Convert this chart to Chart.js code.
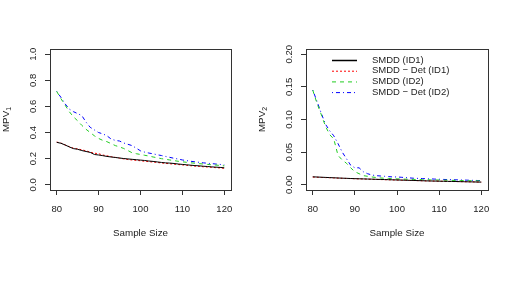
<!DOCTYPE html>
<html>
<head>
<meta charset="utf-8">
<script src="https://cdn.jsdelivr.net/npm/chart.js@4/dist/chart.umd.min.js"></script>
<style>
  body { margin: 0; background: #fff; }
  #wrap { position: relative; width: 513px; height: 288px; }
  canvas { position: absolute; top: 0; }
</style>
</head>
<body>
<div id="wrap">
  <canvas id="left" width="256" height="288" style="left:0px"></canvas>
  <canvas id="right" width="257" height="288" style="left:256px"></canvas>
</div>
<script>
// sample sizes 80..120
const sampleSizes = [80,81,82,83,84,85,86,87,88,89,90,91,92,93,94,95,96,97,98,99,100,
  101,102,103,104,105,106,107,108,109,110,111,112,113,114,115,116,117,118,119,120];

const seriesNames = ["SMDD (ID1)", "SMDD \u2212 Det (ID1)", "SMDD (ID2)", "SMDD \u2212 Det (ID2)"];

// MPV1 panel
const mpv1_smddId1 = [.325,.318,.305,.290,.277,.272,.262,.255,.248,.232,.228,.223,.217,.213,.209,.205,.201,.198,.195,.192,.189,
  .186,.182,.179,.175,.171,.168,.166,.163,.159,.156,.153,.150,.147,.145,.142,.140,.137,.135,.133,.130];
const mpv1_detId1 = [.327,.320,.305,.292,.280,.275,.268,.260,.250,.242,.238,.228,.222,.215,.210,.204,.198,.193,.190,.187,.184,
  .180,.177,.174,.171,.167,.164,.161,.158,.155,.152,.149,.146,.143,.141,.138,.136,.134,.131,.129,.126];
const mpv1_smddId2 = [.715,.660,.610,.560,.520,.490,.455,.425,.400,.375,.355,.340,.330,.315,.300,.290,.278,.262,.245,.238,.232,
  .226,.220,.213,.207,.200,.195,.190,.185,.180,.176,.172,.168,.165,.162,.159,.156,.153,.151,.148,.145];
const mpv1_detId2 = [.715,.670,.620,.580,.560,.545,.530,.480,.440,.420,.400,.390,.375,.350,.340,.335,.320,.310,.300,.280,.260,
  .250,.243,.237,.230,.224,.217,.210,.203,.197,.190,.185,.180,.176,.172,.168,.165,.162,.159,.156,.153];

// MPV2 panel
const mpv2_smddId1 = [.0122,.0119,.0116,.0113,.0110,.0107,.0104,.0101,.0099,.0096,.0094,.0092,.0090,.0088,.0086,.0084,.0082,.0080,.0078,.0076,.0074,
  .0072,.0070,.0068,.0066,.0064,.0062,.0060,.0058,.0057,.0055,.0054,.0052,.0051,.0050,.0048,.0047,.0045,.0044,.0042,.0041];
const mpv2_detId1 = [.0118,.0116,.0113,.0110,.0108,.0105,.0102,.0100,.0097,.0095,.0092,.0090,.0088,.0086,.0084,.0082,.0080,.0078,.0076,.0074,.0072,
  .0070,.0068,.0066,.0065,.0063,.0061,.0059,.0058,.0056,.0055,.0053,.0052,.0050,.0049,.0048,.0046,.0045,.0044,.0042,.0041];
const mpv2_smddId2 = [.145,.125,.108,.090,.077,.070,.045,.038,.033,.026,.020,.017,.014,.013,.012,.0112,.0105,.0100,.0096,.0093,.0090,
  .0088,.0086,.0084,.0082,.0080,.0078,.0077,.0076,.0074,.0073,.0071,.0070,.0068,.0067,.0065,.0064,.0063,.0062,.0060,.0059];
const mpv2_detId2 = [.145,.128,.110,.093,.083,.075,.063,.050,.040,.030,.026,.026,.020,.017,.015,.014,.0135,.013,.0125,.012,.012,
  .0115,.011,.0105,.010,.0098,.0095,.0092,.0090,.0087,.0085,.0082,.0080,.0078,.0076,.0074,.0072,.0070,.0068,.0066,.0064];

const xTicks = [80, 90, 100, 110, 120];
const y1Ticks = [0, 0.2, 0.4, 0.6, 0.8, 1.0];
const y1Labels = ["0.0", "0.2", "0.4", "0.6", "0.8", "1.0"];
const y2Ticks = [0, 0.05, 0.10, 0.15, 0.20];
const y2Labels = ["0.00", "0.05", "0.10", "0.15", "0.20"];

const FONT = "'Liberation Sans', Arial, 'DejaVu Sans', sans-serif";
const lineStyles = [
  { color: "#000000", dash: [] },
  { color: "#ff0000", dash: [2, 2] },
  { color: "#22cc22", dash: [4, 4] },
  { color: "#0000ff", dash: [1, 3, 4, 3] }
];

function makeSets(list) {
  return list.map(function (vals, i) {
    return {
      label: seriesNames[i],
      data: sampleSizes.map(function (n, k) { return { x: n, y: vals[k] }; }),
      borderColor: lineStyles[i].color,
      borderDash: lineStyles[i].dash,
      borderWidth: 1,
      pointRadius: 0,
      tension: 0,
      fill: false
    };
  });
}

// box, y tick labels, axis titles and (optionally) the legend
const decor = {
  id: "decor",
  afterDraw(chart, args, opts) {
    const ctx = chart.ctx;
    const a = chart.chartArea;
    const ys = chart.scales.y;
    ctx.save();
    ctx.strokeStyle = "#333";
    ctx.lineWidth = 1;
    ctx.strokeRect(Math.round(a.left) + 0.5, Math.round(a.top) + 0.5,
      Math.round(a.right - a.left), Math.round(a.bottom - a.top));

    ctx.fillStyle = "#222";
    ctx.font = "9.5px " + FONT;
    ctx.textAlign = "center";
    ctx.textBaseline = "middle";
    opts.yTicks.forEach(function (v, i) {
      const py = ys.getPixelForValue(v);
      ctx.save();
      ctx.translate(a.left - 17, py);
      ctx.rotate(-Math.PI / 2);
      ctx.fillText(opts.yLabels[i], 0, 0);
      ctx.restore();
    });

    // x title
    ctx.font = "9.8px " + FONT;
    ctx.fillText("Sample Size", (a.left + a.right) / 2, 233);

    // y title with subscript
    ctx.save();
    ctx.translate(6, (a.top + a.bottom) / 2);
    ctx.rotate(-Math.PI / 2);
    ctx.font = "9.8px " + FONT;
    const w1 = ctx.measureText("MPV").width;
    ctx.font = "7px " + FONT;
    const w2 = ctx.measureText(opts.sub).width;
    ctx.textAlign = "left";
    ctx.font = "9.8px " + FONT;
    ctx.fillText("MPV", -(w1 + w2) / 2, 0);
    ctx.font = "7px " + FONT;
    ctx.fillText(opts.sub, -(w1 + w2) / 2 + w1, 3);
    ctx.restore();

    if (opts.legend) {
      ctx.font = "9.5px " + FONT;
      ctx.textAlign = "left";
      chart.data.datasets.forEach(function (ds, i) {
        const ly = 60 + i * 10.7;
        ctx.beginPath();
        ctx.strokeStyle = ds.borderColor;
        ctx.setLineDash(ds.borderDash);
        ctx.lineWidth = i === 0 ? 1.5 : 1;
        ctx.moveTo(76, ly + 0.5);
        ctx.lineTo(101, ly + 0.5);
        ctx.stroke();
        ctx.setLineDash([]);
        ctx.fillStyle = "#222";
        ctx.fillText(ds.label, 116, ly);
      });
    }
    ctx.restore();
  }
};

function makeChart(id, sets, yMin, yMax, yTicks, yLabels, sub, legend) {
  return new Chart(document.getElementById(id), {
    type: "line",
    data: { datasets: makeSets(sets) },
    plugins: [decor],
    options: {
      responsive: false,
      animation: false,
      layout: { padding: { left: 0, top: 49, right: 25, bottom: 0 } },
      plugins: {
        legend: { display: false },
        tooltip: { enabled: false },
        decor: { yTicks: yTicks, yLabels: yLabels, sub: sub, legend: legend }
      },
      scales: {
        x: {
          type: "linear",
          min: 78.4,
          max: 121.6,
          afterBuildTicks: function (s) { s.ticks = xTicks.map(function (v) { return { value: v }; }); },
          afterFit: function (s) { s.height = 98; },
          grid: { drawOnChartArea: false, drawTicks: true, tickLength: 5, color: "#333" },
          border: { display: false },
          ticks: { color: "#222", font: { size: 9.5, family: FONT }, padding: 9, maxRotation: 0 }
        },
        y: {
          type: "linear",
          min: yMin,
          max: yMax,
          afterBuildTicks: function (s) { s.ticks = yTicks.map(function (v) { return { value: v }; }); },
          afterFit: function (s) { s.width = 50; },
          grid: { drawOnChartArea: false, drawTicks: true, tickLength: 5, color: "#333" },
          border: { display: false },
          ticks: { display: false }
        }
      }
    }
  });
}

makeChart("left", [mpv1_smddId1, mpv1_detId1, mpv1_smddId2, mpv1_detId2], -0.04, 1.04, y1Ticks, y1Labels, "1", false);
makeChart("right", [mpv2_smddId1, mpv2_detId1, mpv2_smddId2, mpv2_detId2], -0.008, 0.208, y2Ticks, y2Labels, "2", true);
</script>
</body>
</html>
